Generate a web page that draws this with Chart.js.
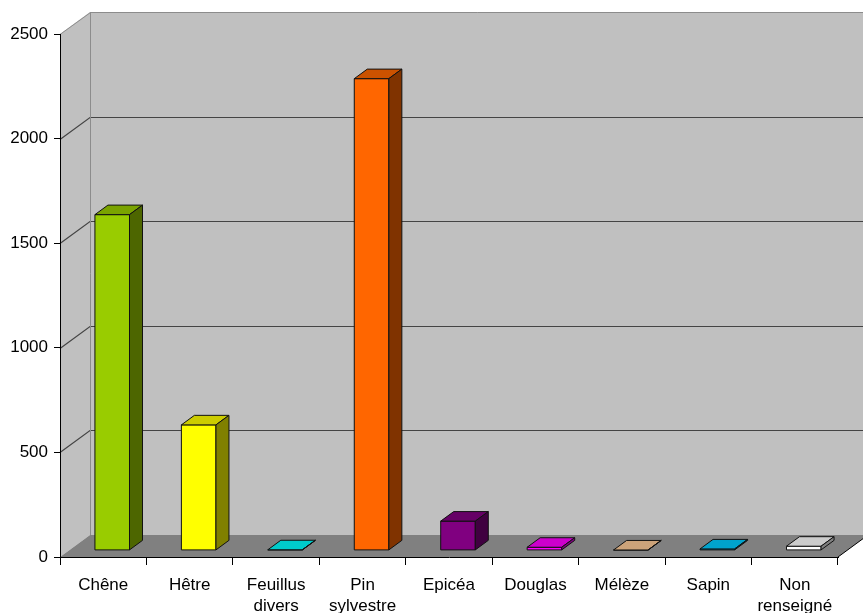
<!DOCTYPE html>
<html>
<head>
<meta charset="utf-8">
<script src="https://cdn.jsdelivr.net/npm/chart.js@4/dist/chart.umd.min.js"></script>
<style>
  html, body { margin: 0; padding: 0; background: #fff; }
  #chart { display: block; }
</style>
</head>
<body>
<canvas id="chart" width="863" height="613"></canvas>
<script>
const categories = ['Chêne', 'Hêtre', ['Feuillus', 'divers'], ['Pin', 'sylvestre'], 'Epicéa', 'Douglas', 'Mélèze', 'Sapin', ['Non', 'renseigné']];
const volumes = [1605, 600, 3, 2255, 140, 15, 2, 7, 20];
const barColors = ['#99CC00', '#FFFF00', '#00FFFF', '#FF6600', '#800080', '#FF00FF', '#FFCC99', '#00CCFF', '#FFFFFF'];
const yTicks = [0, 500, 1000, 1500, 2000, 2500];

// depth of the box the plot sits in, and where the bars sit inside it
const DEPTH_X = 30, DEPTH_Y = 22;
const BAR_OFF_X = 9, BAR_DEPTH_X = 13;

function shade(hex, f) {
  const n = parseInt(hex.slice(1), 16);
  const r = Math.round(((n >> 16) & 255) * f);
  const g = Math.round(((n >> 8) & 255) * f);
  const b = Math.round((n & 255) * f);
  return `rgb(${r},${g},${b})`;
}

function poly(ctx, pts, fill, stroke, lw) {
  ctx.beginPath();
  ctx.moveTo(pts[0][0], pts[0][1]);
  for (let i = 1; i < pts.length; i++) ctx.lineTo(pts[i][0], pts[i][1]);
  ctx.closePath();
  if (fill) { ctx.fillStyle = fill; ctx.fill(); }
  if (stroke) { ctx.strokeStyle = stroke; ctx.lineWidth = lw || 1; ctx.stroke(); }
}

const walls3d = {
  id: 'walls3d',
  beforeDraw(chart) {
    const { ctx, chartArea: a, scales: { y } } = chart;
    const x0 = a.left, x1 = a.right;
    const yTop = y.getPixelForValue(yTicks[yTicks.length - 1]);
    const yZero = y.getPixelForValue(0);
    const farRight = chart.width + DEPTH_X;
    ctx.save();
    // back wall
    poly(ctx, [[x0 + DEPTH_X, yTop - DEPTH_Y], [farRight, yTop - DEPTH_Y], [farRight, yZero - DEPTH_Y], [x0 + DEPTH_X, yZero - DEPTH_Y]], '#C0C0C0');
    // left wall
    poly(ctx, [[x0, yTop], [x0 + DEPTH_X, yTop - DEPTH_Y], [x0 + DEPTH_X, yZero - DEPTH_Y], [x0, yZero]], '#C0C0C0');
    // floor
    poly(ctx, [[x0, yZero], [x0 + DEPTH_X, yZero - DEPTH_Y], [x1 + DEPTH_X, yZero - DEPTH_Y], [x1, yZero]], '#808080');
    // grid lines on the walls
    ctx.strokeStyle = '#444';
    ctx.lineWidth = 1.2;
    yTicks.forEach(v => {
      if (v === 0 || v === yTicks[yTicks.length - 1]) return;
      const py = Math.round(y.getPixelForValue(v)) + 0.5;
      ctx.beginPath();
      ctx.moveTo(x0, py);
      ctx.lineTo(x0 + DEPTH_X, py - DEPTH_Y);
      ctx.lineTo(farRight, py - DEPTH_Y);
      ctx.stroke();
    });
    // wall edges
    ctx.strokeStyle = '#8c8c8c';
    ctx.lineWidth = 1;
    ctx.beginPath();
    ctx.moveTo(x0, yTop + 0.5);
    ctx.lineTo(x0 + DEPTH_X + 0.5, yTop - DEPTH_Y + 0.5);
    ctx.lineTo(farRight, yTop - DEPTH_Y + 0.5);
    ctx.moveTo(x0 + DEPTH_X + 0.5, yTop - DEPTH_Y);
    ctx.lineTo(x0 + DEPTH_X + 0.5, yZero - DEPTH_Y);
    ctx.stroke();
    // right edge of the floor
    ctx.strokeStyle = '#000';
    ctx.beginPath();
    ctx.moveTo(x1, yZero);
    ctx.lineTo(x1 + DEPTH_X, yZero - DEPTH_Y);
    ctx.stroke();
    ctx.restore();
  },
  afterDatasetsDraw(chart) {
    const { ctx } = chart;
    const meta = chart.getDatasetMeta(0);
    const ratio = DEPTH_Y / DEPTH_X;
    const ox = BAR_OFF_X, oy = -BAR_OFF_X * ratio;
    const dx = BAR_DEPTH_X, dy = -BAR_DEPTH_X * ratio;
    ctx.save();
    ctx.lineJoin = 'round';
    meta.data.forEach((bar, i) => {
      const { x, y, base, width } = bar.getProps(['x', 'y', 'base', 'width'], true);
      const l = x - width / 2 + ox, r = l + width;
      const t = y + oy, b = base + oy;
      const c = barColors[i];
      poly(ctx, [[l, t], [r, t], [r, b], [l, b]], c, '#111', 1);
      poly(ctx, [[l, t], [l + dx, t + dy], [r + dx, t + dy], [r, t]], shade(c, 0.8), '#111', 1);
      poly(ctx, [[r, t], [r + dx, t + dy], [r + dx, b + dy], [r, b]], shade(c, 0.5), '#111', 1);
    });
    ctx.restore();
  }
};

const font = { family: '"Liberation Sans", Arial, sans-serif', size: 17 };

new Chart(document.getElementById('chart'), {
  type: 'bar',
  data: {
    labels: categories,
    datasets: [{
      data: volumes,
      backgroundColor: 'rgba(0,0,0,0)',
      borderWidth: 0,
      barPercentage: 0.4,
      categoryPercentage: 1.0
    }]
  },
  options: {
    responsive: false,
    devicePixelRatio: 1,
    animation: false,
    layout: { padding: { top: 34, right: 25, left: 0, bottom: 0 } },
    plugins: { legend: { display: false }, tooltip: { enabled: false } },
    scales: {
      x: {
        offset: true,
        grid: { drawOnChartArea: false, offset: true, tickLength: 8, color: '#000' },
        border: { color: '#000', width: 1 },
        ticks: { color: '#000', font: { ...font, lineHeight: 1.28 }, padding: 9, maxRotation: 0, autoSkip: false },
        afterFit: s => { s.height = 56; }
      },
      y: {
        min: 0,
        max: 2500,
        grid: { drawOnChartArea: false, tickLength: 6, color: '#000' },
        border: { color: '#000', width: 1 },
        ticks: { stepSize: 500, color: '#000', font, padding: 6, callback: v => String(v) },
        afterFit: s => { s.width = 60; }
      }
    }
  },
  plugins: [walls3d]
});
</script>
</body>
</html>
